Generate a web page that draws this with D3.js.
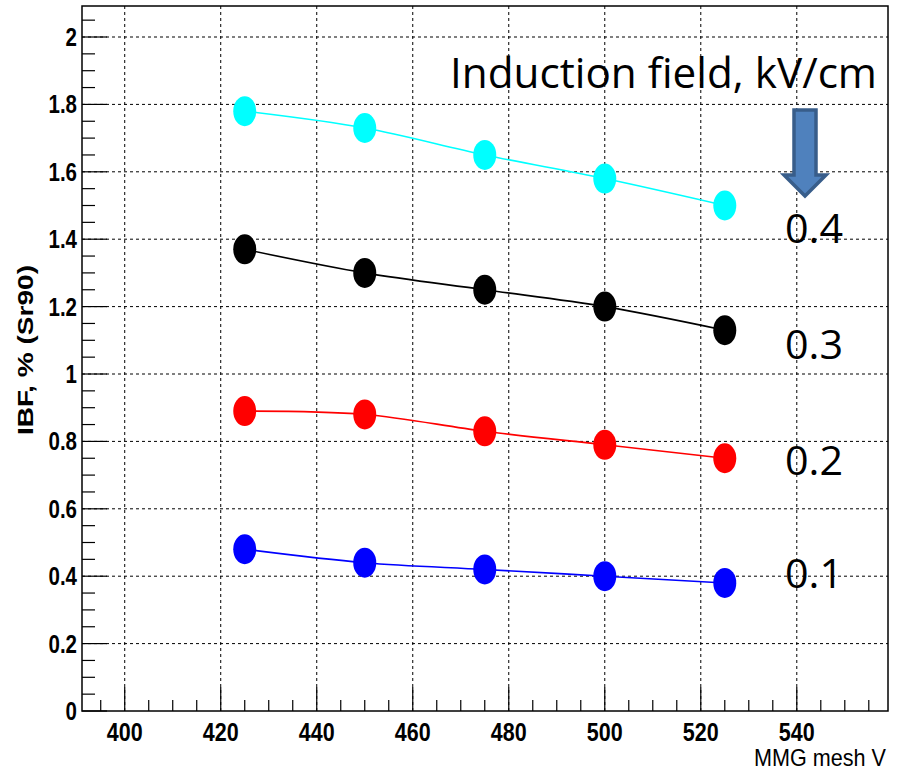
<!DOCTYPE html>
<html><head><meta charset="utf-8">
<script src="https://cdn.jsdelivr.net/npm/d3@7"></script>
<style>body{margin:0;background:#fff}svg{display:block}</style>
</head><body><svg id="c" width="901" height="775"></svg>
<script>
const xValues = [425, 450, 475, 500, 525];
const fieldLabels = ["0.4", "0.3", "0.2", "0.1"];
const series04 = [1.78, 1.73, 1.65, 1.58, 1.50];
const series03 = [1.37, 1.30, 1.25, 1.20, 1.13];
const series02 = [0.89, 0.88, 0.83, 0.79, 0.75];
const series01 = [0.48, 0.44, 0.42, 0.40, 0.38];
const seriesColors = ["#00ffff", "#000000", "#ff0000", "#0000ff"];
const xTicks = [400, 420, 440, 460, 480, 500, 520, 540];
const yTicks = [0, 0.2, 0.4, 0.6, 0.8, 1, 1.2, 1.4, 1.6, 1.8, 2];
const labelValues = [1.39, 1.045, 0.70, 0.365];

const svg = d3.select("#c");
const L = 82, R = 888, T = 6, B = 711;
const x = d3.scaleLinear().domain([391.1, 559.0]).range([L, R]);
const y = d3.scaleLinear().domain([0, 2.092]).range([B, T]);
const FONT = "Liberation Sans, Arial, sans-serif";

// grid
const g = svg.append("g");
g.selectAll(".vg").data(xTicks).join("line")
  .attr("x1", d => x(d)).attr("x2", d => x(d)).attr("y1", T).attr("y2", B)
  .attr("stroke", "#000").attr("stroke-width", 1).attr("stroke-dasharray", "3,3");
g.selectAll(".hg").data(yTicks.filter(d => d > 0)).join("line")
  .attr("x1", L).attr("x2", R).attr("y1", d => y(d)).attr("y2", d => y(d))
  .attr("stroke", "#000").attr("stroke-width", 1).attr("stroke-dasharray", "3,3");

// minor/major ticks
const xMinor = d3.range(395, 559, 5);
svg.append("g").selectAll("line").data(xMinor).join("line")
  .attr("x1", d => x(d)).attr("x2", d => x(d))
  .attr("y1", B).attr("y2", d => d % 20 === 0 ? B - 24 : B - 11)
  .attr("stroke", "#000").attr("stroke-width", 1.2);
const yMinor = d3.range(0, 2.09, 0.05);
svg.append("g").selectAll("line").data(yMinor).join("line")
  .attr("y1", d => y(d)).attr("y2", d => y(d))
  .attr("x1", L).attr("x2", (d, i) => i % 4 === 0 ? L + 25 : L + 13)
  .attr("stroke", "#000").attr("stroke-width", 1.2);

// frame
svg.append("rect").attr("x", L).attr("y", T).attr("width", R - L).attr("height", B - T)
  .attr("fill", "none").attr("stroke", "#000").attr("stroke-width", 1.5);

// tick labels (condensed)
svg.append("g").selectAll("text").data(xTicks).join("text")
  .attr("transform", d => `translate(${x(d)},741) scale(0.86,1)`).attr("text-anchor", "middle")
  .attr("font-family", FONT).attr("font-size", 25)
  .attr("font-weight", "bold").text(d => d);
svg.append("g").selectAll("text").data(yTicks).join("text")
  .attr("transform", d => `translate(77,${y(d) + 9}) scale(0.82,1)`).attr("text-anchor", "end")
  .attr("font-family", FONT).attr("font-size", 25)
  .attr("font-weight", "bold").text(d => d3.format("~g")(d));

// axis titles
svg.append("text").attr("x", 886).attr("y", 766).attr("text-anchor", "end")
  .attr("font-family", FONT).attr("font-size", 24)
  .attr("textLength", 132).attr("lengthAdjust", "spacingAndGlyphs").text("MMG mesh V");
svg.append("text").attr("transform", "translate(33,350) rotate(-90)").attr("text-anchor", "middle")
  .attr("font-family", FONT).attr("font-size", 22)
  .attr("font-weight", "bold").attr("textLength", 170).attr("lengthAdjust", "spacingAndGlyphs")
  .text("IBF, % (Sr90)");

// series
const allSeries = [series04, series03, series02, series01];
const line = d3.line().x((d, i) => x(xValues[i])).y(d => y(d)).curve(d3.curveCatmullRom);
allSeries.forEach((s, k) => {
  svg.append("path").datum(s).attr("d", line).attr("fill", "none")
    .attr("stroke", seriesColors[k]).attr("stroke-width", 1.6);
  svg.append("g").selectAll("ellipse").data(s).join("ellipse")
    .attr("cx", (d, i) => x(xValues[i])).attr("cy", d => y(d))
    .attr("rx", 11.5).attr("ry", 15).attr("fill", seriesColors[k]);
});

// annotation
svg.append("text").attr("x", 450).attr("y", 88)
  .attr("font-family", "Open Sans, sans-serif").attr("font-size", 42)
  .attr("textLength", 427).attr("lengthAdjust", "spacingAndGlyphs")
  .text("Induction field, kV/cm");
svg.append("g").selectAll("text").data(fieldLabels).join("text")
  .attr("x", 785).attr("y", (d, i) => y(labelValues[i]))
  .attr("font-family", "Open Sans, sans-serif").attr("font-size", 40)
  .attr("textLength", 58).attr("lengthAdjust", "spacingAndGlyphs").text(d => d);

// arrow
const ax = 805;
svg.append("path")
  .attr("d", `M${ax-11},110 L${ax+11},110 L${ax+11},175 L${ax+21},175 L${ax},196 L${ax-21},175 L${ax-11},175 Z`)
  .attr("fill", "#4f81bd").attr("stroke", "#385d8a").attr("stroke-width", 3.5)
  .attr("stroke-linejoin", "miter");
</script></body></html>
